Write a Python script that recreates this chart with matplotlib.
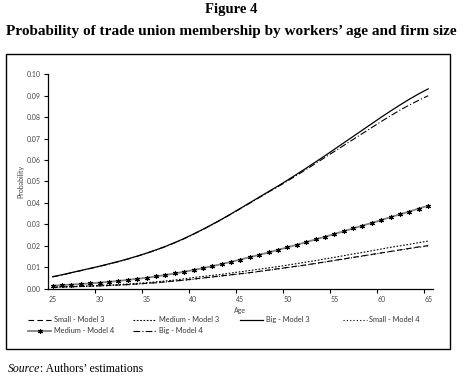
import matplotlib.pyplot as plt
from matplotlib.patches import Rectangle

# ages on the x axis (one point per year)
ages = list(range(25, 66))

# probabilities
small_m3 = [0.0007, 0.0008, 0.0009, 0.0010, 0.0012, 0.0013, 0.0015, 0.0017, 0.0019, 0.0022,
            0.0025, 0.0028, 0.0032, 0.0036, 0.0040, 0.0045, 0.0050, 0.0055, 0.0060, 0.0065,
            0.0070, 0.0075, 0.0081, 0.0087, 0.0093, 0.0099, 0.0105, 0.0111, 0.0118, 0.0125,
            0.0132, 0.0139, 0.0146, 0.0153, 0.0160, 0.0167, 0.0174, 0.0181, 0.0188, 0.0195,
            0.0201]
medium_m3 = [0.0008, 0.0009, 0.0010, 0.0012, 0.0013, 0.0015, 0.0017, 0.0019, 0.0022, 0.0025,
             0.0028, 0.0032, 0.0036, 0.0040, 0.0046, 0.0052, 0.0057, 0.0062, 0.0067, 0.0073,
             0.0079, 0.0085, 0.0091, 0.0097, 0.0103, 0.0110, 0.0117, 0.0124, 0.0131, 0.0139,
             0.0146, 0.0154, 0.0162, 0.0169, 0.0177, 0.0185, 0.0193, 0.0200, 0.0207, 0.0215,
             0.0222]
big_m3 = [0.0056, 0.0065, 0.0075, 0.0085, 0.0095, 0.0105, 0.0116, 0.0127, 0.0139, 0.0152,
          0.0166, 0.0181, 0.0197, 0.0215, 0.0234, 0.0255, 0.0277, 0.0300, 0.0324, 0.0349,
          0.0375, 0.0401, 0.0427, 0.0453, 0.0479, 0.0506, 0.0534, 0.0562, 0.0591, 0.0620,
          0.0650, 0.0680, 0.0710, 0.0740, 0.0770, 0.0800, 0.0829, 0.0857, 0.0884, 0.0909,
          0.0932]
small_m4 = [0.0006, 0.0007, 0.0008, 0.0010, 0.0011, 0.0013, 0.0014, 0.0016, 0.0018, 0.0021,
            0.0024, 0.0027, 0.0031, 0.0035, 0.0039, 0.0044, 0.0049, 0.0054, 0.0059, 0.0064,
            0.0069, 0.0074, 0.0080, 0.0086, 0.0092, 0.0098, 0.0104, 0.0110, 0.0117, 0.0124,
            0.0131, 0.0138, 0.0145, 0.0152, 0.0159, 0.0166, 0.0173, 0.0180, 0.0187, 0.0193,
            0.0199]
medium_m4 = [0.0014, 0.0017, 0.0019, 0.0022, 0.0025, 0.0028, 0.0032, 0.0036, 0.0041, 0.0046,
             0.0051, 0.0057, 0.0064, 0.0071, 0.0079, 0.0087, 0.0096, 0.0105, 0.0115, 0.0125,
             0.0136, 0.0147, 0.0158, 0.0169, 0.0181, 0.0193, 0.0205, 0.0217, 0.0230, 0.0242,
             0.0255, 0.0268, 0.0281, 0.0294, 0.0307, 0.0320, 0.0334, 0.0347, 0.0360, 0.0374,
             0.0387]
big_m4 = [0.0055, 0.0064, 0.0074, 0.0084, 0.0094, 0.0104, 0.0115, 0.0126, 0.0138, 0.0151,
          0.0165, 0.0180, 0.0196, 0.0214, 0.0233, 0.0254, 0.0276, 0.0299, 0.0323, 0.0348,
          0.0373, 0.0399, 0.0425, 0.0451, 0.0476, 0.0502, 0.0529, 0.0556, 0.0584, 0.0612,
          0.0640, 0.0668, 0.0696, 0.0724, 0.0752, 0.0780, 0.0807, 0.0833, 0.0857, 0.0879,
          0.0900]

age_labels = [25, 30, 35, 40, 45, 50, 55, 60, 65]
prob_ticks = [0.00, 0.01, 0.02, 0.03, 0.04, 0.05, 0.06, 0.07, 0.08, 0.09, 0.10]

small_font = "Lato"
text_grey = "#444444"

fig = plt.figure(figsize=(4.63, 3.80), dpi=100)

fig.text(0.5, 0.975, "Figure 4", ha="center", va="center",
         family="Liberation Serif", weight="bold", size=10.5)
fig.text(0.5, 0.917, "Probability of trade union membership by workers\u2019 age and firm size",
         ha="center", va="center", family="Liberation Serif", weight="bold", size=11)

# outer frame of the chart object
fig.add_artist(Rectangle((0.013, 0.082), 0.959, 0.776, transform=fig.transFigure,
                         fill=False, lw=1.0, ec="black"))

ax = fig.add_axes([0.1037, 0.2403, 0.8313, 0.5642])

h_s3, = ax.plot(ages, small_m3, color="black", lw=0.8, ls=(0, (5, 3)), label="Small - Model 3")
h_m3, = ax.plot(ages, medium_m3, color="black", lw=0.8, ls=(0, (1.5, 1.5)), label="Medium - Model 3")
h_b3, = ax.plot(ages, big_m3, color="black", lw=0.9, ls="-", label="Big - Model 3")
h_s4, = ax.plot(ages, small_m4, color="black", lw=0.8, ls=(0, (1, 2)), label="Small - Model 4")
h_m4, = ax.plot(ages, medium_m4, color="#808080", lw=1.3, ls="-", marker=(6, 2, 0),
                ms=3.6, mec="black", mew=0.8, label="Medium - Model 4")
h_b4, = ax.plot(ages, big_m4, color="black", lw=0.8, ls=(0, (6, 2, 1, 2)), label="Big - Model 4")

ax.set_xlim(24.5, 65.5)
ax.set_ylim(0, 0.10)
for side in ["top", "right"]:
    ax.spines[side].set_visible(False)
for side in ["left", "bottom"]:
    ax.spines[side].set_linewidth(0.9)

ax.set_yticks(prob_ticks)
ax.set_yticklabels([f"{v:.2f}" for v in prob_ticks])
ax.set_xticks(age_labels)
ax.set_xticklabels([str(a) for a in age_labels])
ax.set_xticks([a - 0.5 for a in age_labels[1:]], minor=True)
ax.tick_params(axis="x", which="major", length=0, pad=5, labelsize=5, labelcolor=text_grey)
ax.tick_params(axis="x", which="minor", length=3, width=0.8, direction="out")
ax.tick_params(axis="y", length=3, width=0.8, direction="out", pad=2,
               labelsize=5, labelcolor=text_grey)
for lab in ax.get_xticklabels() + ax.get_yticklabels():
    lab.set_family(small_font)

ax.set_xlabel("Age", family=small_font, size=5, color=text_grey, labelpad=3)
ax.set_ylabel("Probability", family=small_font, size=5, color=text_grey, labelpad=2)

# legend: four columns laid out like the original (row-wise order)
legend_cols = [[h_s3, h_m4], [h_m3, h_b4], [h_b3], [h_s4]]
col_x = [0.052, 0.279, 0.510, 0.733]
for hs, x in zip(legend_cols, col_x):
    leg = fig.legend(handles=hs, labels=[h.get_label() for h in hs], loc="upper left",
                     bbox_to_anchor=(x, 0.177), frameon=False, numpoints=1,
                     prop={"family": small_font, "size": 5.3}, handlelength=3.2,
                     handletextpad=0.3, labelspacing=0.55, labelcolor="#333333", borderpad=0)

t = fig.text(0.017, 0.022, "Source", style="italic", family="Liberation Serif", size=8.5,
             va="baseline")
ax.annotate(": Authors\u2019 estimations", xy=(1, 0), xycoords=t, va="bottom",
            family="Liberation Serif", size=8.5, annotation_clip=False)

fig.savefig("out.png", dpi=100)
